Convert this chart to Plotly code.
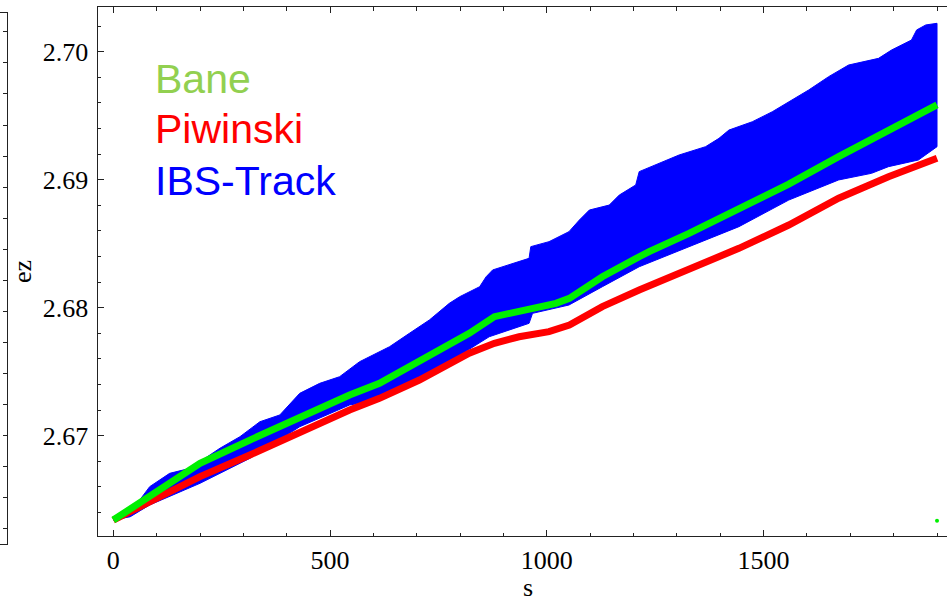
import plotly.graph_objects as go

# ---- data ----
bane_s = [0, 84, 200, 315, 430, 545, 614, 706, 821, 879, 936, 1021, 1052, 1128, 1213,
          1236, 1328, 1443, 1558, 1673, 1788, 1900]
bane_ez = [2.66341, 2.66523, 2.66784, 2.66966, 2.67148, 2.67318, 2.67409, 2.67578, 2.67800,
           2.67930, 2.67969, 2.68034, 2.68073, 2.68242, 2.68398, 2.68438, 2.68581, 2.68769,
           2.68966, 2.69180, 2.69383, 2.69584]

piw_s = [0, 84, 200, 315, 430, 545, 614, 706, 821, 879, 936, 1005, 1052, 1128, 1213,
         1328, 1443, 1558, 1673, 1788, 1900]
piw_ez = [2.66341, 2.66484, 2.66680, 2.66849, 2.67031, 2.67201, 2.67292, 2.67435, 2.67644,
          2.67722, 2.67773, 2.67813, 2.67865, 2.68008, 2.68138, 2.68295, 2.68464, 2.68646,
          2.68855, 2.69023, 2.69167]

ibs_up_s = [0, 61, 84, 130, 177, 200, 246, 292, 338, 384, 430, 476, 522, 568, 614, 637, 683,
            729, 775, 799, 845, 860, 875, 913, 959, 963, 1005, 1051, 1075, 1098, 1144, 1167,
            1205, 1213, 1259, 1305, 1366, 1397, 1420, 1474, 1520, 1558, 1604, 1650, 1696,
            1765, 1795, 1841, 1853, 1874, 1900]
ibs_up_ez = [2.66341, 2.66498, 2.66602, 2.66706, 2.66745, 2.66797, 2.66902, 2.66992, 2.67109,
             2.67162, 2.67331, 2.67409, 2.67461, 2.67578, 2.67656, 2.67695, 2.67800, 2.67904,
             2.68034, 2.68086, 2.68164, 2.68242, 2.68295, 2.68334, 2.68386, 2.68477, 2.68516,
             2.68594, 2.68685, 2.68763, 2.68802, 2.68880, 2.68959, 2.69063, 2.69128, 2.69193,
             2.69258, 2.69323, 2.69388, 2.69453, 2.69531, 2.69609, 2.69701, 2.69805, 2.69896,
             2.69948, 2.70013, 2.70091, 2.70170, 2.70209, 2.70222]

ibs_lo_s = [0, 39, 84, 200, 315, 430, 545, 614, 706, 775, 867, 959, 967, 1051, 1128, 1213,
            1328, 1443, 1558, 1673, 1749, 1788, 1857, 1900]
ibs_lo_ez = [2.66341, 2.66367, 2.66459, 2.66628, 2.66823, 2.67070, 2.67240, 2.67279, 2.67461,
             2.67578, 2.67773, 2.67878, 2.67956, 2.68021, 2.68164, 2.68320, 2.68477, 2.68633,
             2.68841, 2.68998, 2.69050, 2.69102, 2.69154, 2.69258]

stray_s = [1900]
stray_ez = [2.66336]

legend_names = ["Bane", "Piwinski", "IBS-Track"]
legend_colors = ["#92D050", "#FF0000", "#0000FF"]
x_title = "s"
y_title = "ez"

W, H = 947, 603
SERIF = "Liberation Serif, Times New Roman, serif"
AX = "#222222"

fig = go.Figure()

# IBS-Track band (filled region between lower and upper envelopes)
band_x = ibs_up_s + ibs_lo_s[::-1]
band_y = ibs_up_ez + ibs_lo_ez[::-1]
fig.add_trace(go.Scatter(x=band_x, y=band_y, mode="lines", fill="toself",
                         fillcolor="#0000FF", line=dict(color="#0000FF", width=1),
                         hoverinfo="skip", showlegend=False))
fig.add_trace(go.Scatter(x=piw_s, y=piw_ez, mode="lines",
                         line=dict(color="#FF0000", width=7), showlegend=False))
fig.add_trace(go.Scatter(x=bane_s, y=bane_ez, mode="lines",
                         line=dict(color="#00F000", width=7), showlegend=False))
fig.add_trace(go.Scatter(x=stray_s, y=stray_ez, mode="markers",
                         marker=dict(color="#00F000", size=4), showlegend=False))
# dummy trace for the partial neighbouring frame on the left
fig.add_trace(go.Scatter(x=[None], y=[None], xaxis="x2", yaxis="y2", showlegend=False))

x_left = 97.7 / W
y_bot = (H - 536.3) / H
y_top = (H - 7.3) / H

fig.update_layout(
    width=W, height=H,
    margin=dict(l=0, r=0, t=0, b=0),
    paper_bgcolor="white", plot_bgcolor="white",
    showlegend=False, hovermode=False,
    xaxis=dict(domain=[x_left, 1], range=[-36, 1923], showgrid=False, zeroline=False,
               showline=True, linecolor=AX, linewidth=1.3, mirror="ticks",
               ticks="inside", ticklen=6, tickcolor=AX, tickwidth=1.3,
               tick0=0, dtick=500,
               minor=dict(dtick=100, ticks="inside", ticklen=3.5, tickcolor=AX, tickwidth=1.3),
               tickfont=dict(family=SERIF, size=26, color="black"),
               automargin=False),
    yaxis=dict(domain=[y_bot, y_top], range=[2.66214, 2.70347], showgrid=False, zeroline=False,
               showline=True, linecolor=AX, linewidth=1.3, mirror=False,
               ticks="inside", ticklen=6, tickcolor=AX, tickwidth=1.3,
               tick0=2.67, dtick=0.01, tickformat=".2f", ticklabelstandoff=3,
               minor=dict(dtick=0.002, ticks="inside", ticklen=3.5, tickcolor=AX, tickwidth=1.3),
               tickfont=dict(family=SERIF, size=26, color="black"),
               automargin=False),
    xaxis2=dict(domain=[0, 6.7 / W], range=[0, 1], anchor="y2", showgrid=False, zeroline=False,
                showline=True, linecolor=AX, linewidth=1.3, mirror=True,
                ticks="", showticklabels=False),
    yaxis2=dict(domain=[(H - 544) / H, (H - 13.3) / H], range=[-0.516, 16.603], anchor="x2",
                side="right", showgrid=False, zeroline=False, showline=True, linecolor=AX,
                linewidth=1.3, ticks="inside", ticklen=3.5, tickcolor=AX, tickwidth=1.3,
                tick0=0, dtick=1, showticklabels=False),
)

# axis titles as positioned text
fig.add_annotation(text=x_title, xref="paper", yref="paper", x=528 / W, y=0,
                   xanchor="center", yanchor="bottom", showarrow=False, borderpad=0,
                   font=dict(family=SERIF, size=26, color="black"))
fig.add_annotation(text=y_title, xref="paper", yref="paper", x=23 / W, y=(H - 272) / H,
                   xanchor="center", yanchor="middle", showarrow=False, textangle=-90,
                   font=dict(family=SERIF, size=26, color="black"))

# legend text block
leg_y_px = [79.4, 129.4, 181.0]
for name, col, py in zip(legend_names, legend_colors, leg_y_px):
    fig.add_annotation(text=name, xref="paper", yref="paper", x=153 / W, y=(H - py) / H,
                       xanchor="left", yanchor="middle", showarrow=False,
                       font=dict(family="Liberation Sans, Arial, sans-serif", size=41, color=col))

fig.write_html("out.html")
